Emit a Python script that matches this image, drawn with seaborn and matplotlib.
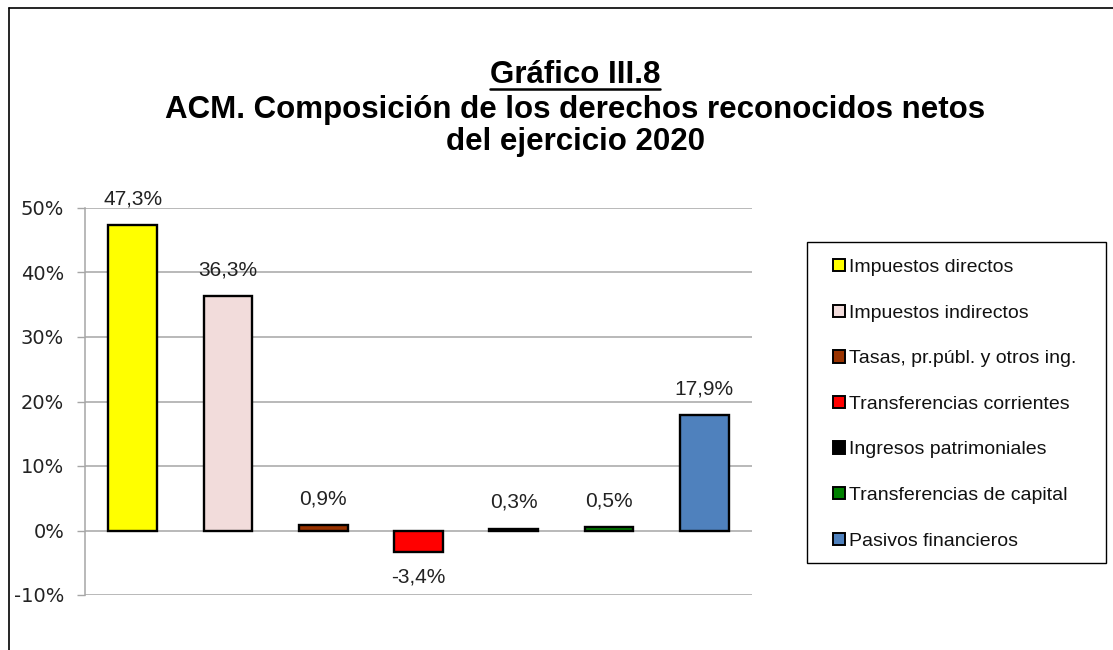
import numpy as np
import pandas as pd
import matplotlib
matplotlib.use("Agg")
import matplotlib.pyplot as plt
from matplotlib.lines import Line2D
from matplotlib.patches import Patch, Rectangle
import seaborn as sns

# data
categorias = ["Impuestos directos",
              "Impuestos indirectos",
              "Tasas, pr.públ. y otros ing.",
              "Transferencias corrientes",
              "Ingresos patrimoniales",
              "Transferencias de capital",
              "Pasivos financieros"]
valores = [47.3, 36.3, 0.9, -3.4, 0.3, 0.5, 17.9]
etiquetas = ["47,3%", "36,3%", "0,9%", "-3,4%", "0,3%", "0,5%", "17,9%"]
colores = ["#FFFF00", "#F2DCDB", "#993300", "#FF0000", "#000000", "#008000", "#4F81BD"]
yticks = [-10, 0, 10, 20, 30, 40, 50]

df = pd.DataFrame({"cat": categorias, "val": valores})

sns.set_style("white")
plt.rcParams["font.family"] = ["Liberation Sans", "DejaVu Sans"]
plt.rcParams["text.color"] = "black"

W, H = 1113, 650
fig = plt.figure(figsize=(W/100, H/100), dpi=100)
ax = fig.add_axes([85/W, 1-595/H, (752-85)/W, (595-208)/H])

sns.barplot(data=df, x="cat", y="val", hue="cat", palette=colores,
            edgecolor="black", linewidth=1.7, width=0.51, legend=False,
            saturation=1, ax=ax)

ax.set_ylim(-10, 50)
ax.set_xlim(-0.5, len(categorias) - 0.5)
ax.set_yticks(yticks)
ax.set_yticklabels([f"{t}%" for t in yticks], fontsize=14,
                   family="DejaVu Sans", color="#222222")
ax.set_xticks([])
ax.set_xlabel("")
ax.set_ylabel("")
ax.yaxis.grid(True, color="#A6A6A6", linewidth=1.1)
ax.set_axisbelow(True)
ax.tick_params(axis="y", length=6, width=1, color="#A6A6A6", pad=9, left=True)
for s in ["top", "right", "bottom"]:
    ax.spines[s].set_visible(False)
ax.spines["left"].set_color("#A6A6A6")
ax.spines["left"].set_linewidth(1.1)

# etiquetas de datos
for i, (v, t) in enumerate(zip(valores, etiquetas)):
    if v >= 0:
        ax.annotate(t, (i, v), xytext=(0, 12), textcoords="offset points",
                    ha="center", va="bottom", fontsize=15, color="#222222")
    else:
        ax.annotate(t, (i, v), xytext=(0, -11), textcoords="offset points",
                    ha="center", va="top", fontsize=15, color="#222222")

# leyenda (marco dibujado aparte)
handles = [Patch(facecolor=c, edgecolor="black", linewidth=1.4) for c in colores]
leg = fig.legend(handles, categorias, loc="upper left",
                 bbox_to_anchor=(833/W, 1-259/H), fontsize=14,
                 frameon=False,
                 handlelength=0.6, handleheight=0.6, handletextpad=0.2,
                 labelspacing=1.47, borderpad=0, borderaxespad=0)
for txt in leg.get_texts():
    txt.set_color("#111111")
fig.add_artist(Rectangle((807/W, 1-563/H), (1106-807)/W, (563-242)/H,
                         transform=fig.transFigure, fill=False,
                         edgecolor="black", linewidth=1.0))

# titulo
t1 = fig.text(575/W, 1-75/H, "Gráfico III.8", ha="center", va="center",
              fontsize=22.5, fontweight="bold")
fig.text(575/W, 1-110/H, "ACM. Composición de los derechos reconocidos netos",
         ha="center", va="center", fontsize=22.5, fontweight="bold")
fig.text(575/W, 1-142/H, "del ejercicio 2020", ha="center", va="center",
         fontsize=22.5, fontweight="bold")

# subrayado del primer titulo
fig.canvas.draw()
bb = t1.get_window_extent().transformed(fig.transFigure.inverted())
fig.add_artist(Line2D([bb.x0, bb.x1], [bb.y0 + 0.002, bb.y0 + 0.002],
                      transform=fig.transFigure, color="black", linewidth=1.8))

# marco
fig.add_artist(Line2D([9/W, 1.0], [1-8/H, 1-8/H], transform=fig.transFigure,
                      color="black", linewidth=1.2))
fig.add_artist(Line2D([9/W, 9/W], [0, 1-8/H], transform=fig.transFigure,
                      color="black", linewidth=1.2))

fig.savefig("out.png", dpi=100)
